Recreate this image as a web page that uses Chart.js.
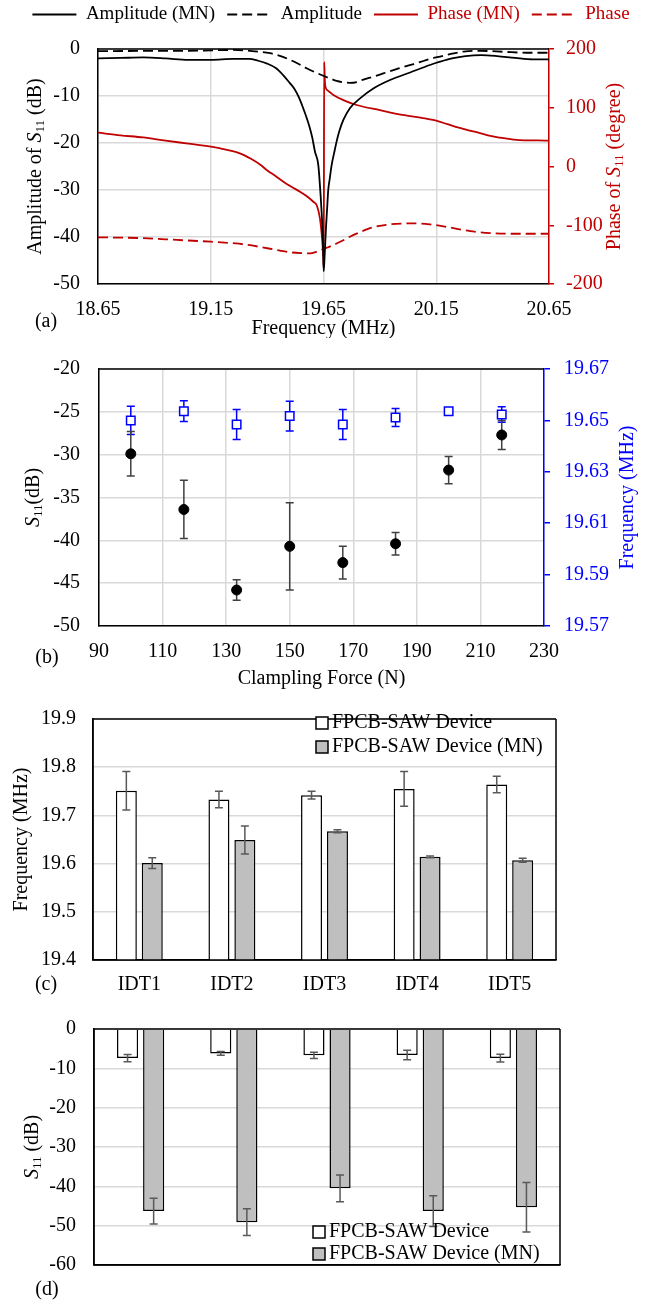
<!DOCTYPE html>
<html>
<head>
<meta charset="utf-8">
<script src="https://cdn.jsdelivr.net/npm/chart.js@4.4.1/dist/chart.umd.min.js"></script>
<style>
  html, body { margin: 0; padding: 0; background: #fff; }
  body { width: 662px; height: 1304px; position: relative; overflow: hidden; }
  .panel { position: absolute; left: 0; width: 662px; }
</style>
</head>
<body>
<div class="panel" style="top:-7px;height:345px"><canvas id="chartA"></canvas></div>
<div class="panel" style="top:338px;height:352px"><canvas id="chartB"></canvas></div>
<div class="panel" style="top:690px;height:325px"><canvas id="chartC"></canvas></div>
<div class="panel" style="top:999px;height:305px"><canvas id="chartD"></canvas></div>
<script>
// (a) S11 amplitude (dB) and phase (degree) vs frequency (MHz)
var freqAmpMN = [18.65, 18.75, 18.85, 18.95, 19.05, 19.15, 19.25, 19.32, 19.36, 19.40, 19.44, 19.47, 19.50, 19.52, 19.54, 19.56, 19.58, 19.59, 19.60, 19.612, 19.627, 19.637, 19.642, 19.646, 19.649, 19.651, 19.655, 19.658, 19.661, 19.666, 19.671, 19.678, 19.686, 19.70, 19.708, 19.72, 19.738, 19.767, 19.812, 19.871, 19.945, 20.034, 20.122, 20.167, 20.22, 20.28, 20.35, 20.42, 20.50, 20.58, 20.65];
var ampMN = [-2.0, -1.9, -1.8, -2.0, -2.3, -2.3, -2.1, -2.1, -2.5, -3.1, -4.1, -5.5, -7.2, -8.4, -10.2, -12.6, -15.3, -16.9, -18.8, -21.8, -24.7, -31, -35, -39, -44, -47.3, -44, -41, -38, -34, -30, -27.5, -24.7, -21.5, -19.7, -17.5, -15.1, -12.6, -10.5, -8.4, -6.6, -5.0, -3.4, -2.7, -2.0, -1.5, -1.3, -1.5, -1.9, -2.2, -2.2];
var freqAmp = [18.65, 18.9, 19.1, 19.25, 19.324, 19.413, 19.46, 19.501, 19.54, 19.575, 19.61, 19.649, 19.68, 19.708, 19.74, 19.767, 19.80, 19.827, 19.87, 19.915, 19.96, 20.004, 20.05, 20.093, 20.13, 20.167, 20.22, 20.28, 20.35, 20.45, 20.55, 20.65];
var amp = [-0.45, -0.4, -0.35, -0.2, -0.4, -0.9, -1.5, -2.3, -3.2, -4.1, -4.9, -5.7, -6.3, -6.8, -7.1, -7.2, -7.0, -6.5, -5.9, -5.2, -4.5, -3.8, -3.2, -2.55, -2.0, -1.6, -1.0, -0.5, -0.4, -0.6, -0.8, -0.8];
var freqPhaseMN = [18.65, 18.75, 18.85, 18.95, 19.05, 19.15, 19.2, 19.26, 19.3, 19.324, 19.37, 19.398, 19.44, 19.472, 19.51, 19.546, 19.57, 19.59, 19.605, 19.62, 19.634, 19.642, 19.646, 19.649, 19.651, 19.653, 19.656, 19.661, 19.667, 19.68, 19.694, 19.738, 19.797, 19.9, 20.0, 20.1, 20.15, 20.2, 20.25, 20.3, 20.344, 20.39, 20.433, 20.48, 20.52, 20.6, 20.65];
var phaseMN = [57.5, 53, 49.5, 44, 39, 33.7, 30, 25, 19, 14, 3, -6, -17, -26, -35, -43, -49, -55, -60, -66, -88, -115, -134, -155, -172, 178, 145, 133, 130, 126, 121.7, 113, 104.7, 96, 88, 82, 78, 72, 66, 61, 57, 52, 49, 46.5, 45, 44.5, 44];
var freqPhase = [18.65, 18.85, 19.0, 19.15, 19.26, 19.324, 19.37, 19.413, 19.46, 19.501, 19.55, 19.59, 19.62, 19.649, 19.68, 19.708, 19.74, 19.767, 19.81, 19.856, 19.9, 19.945, 20.0, 20.034, 20.08, 20.122, 20.2, 20.3, 20.4, 20.5, 20.65];
var phase = [-120.5, -122, -125, -128, -131, -134, -137, -140, -143.5, -146, -147.5, -148, -145, -140.5, -136, -131, -125, -119.5, -112, -105, -101, -98.5, -97, -96.7, -97, -98.5, -103, -110, -113.5, -114.5, -114.5];
var freqTicksA = [18.65, 19.15, 19.65, 20.15, 20.65];

// (b) S11 and resonant frequency vs clamping force
var forceB = [100, 116.7, 133.3, 150, 166.7, 183.3, 200, 216.7];
var s11B = [-29.9, -36.4, -45.8, -40.7, -42.6, -40.4, -31.8, -27.7];
var s11ErrB = [2.6, 3.4, 1.2, 5.1, 1.9, 1.3, 1.6, 1.7];
var freqB = [19.650, 19.6536, 19.6484, 19.6517, 19.6484, 19.6511, 19.6536, 19.6523];
var freqErrB = [0.0055, 0.004, 0.0058, 0.0058, 0.0058, 0.0035, 0.0008, 0.003];
var freqTicksB = [19.57, 19.59, 19.61, 19.63, 19.65, 19.67];

// (c) frequency and (d) S11 per IDT
var idtLabels = ['IDT1', 'IDT2', 'IDT3', 'IDT4', 'IDT5'];
var freqDev = [19.751, 19.733, 19.742, 19.755, 19.764];
var freqDevErr = [0.040, 0.017, 0.008, 0.036, 0.017];
var freqDevMN = [19.601, 19.649, 19.667, 19.614, 19.607];
var freqDevMNErr = [0.011, 0.029, 0.003, 0.002, 0.004];
var freqTicksC = [19.4, 19.5, 19.6, 19.7, 19.8, 19.9];
var s11Dev = [-7.4, -6.2, -6.7, -6.6, -7.4];
var s11DevErr = [0.9, 0.5, 0.8, 1.2, 1.0];
var s11DevMN = [-46.3, -49.1, -40.5, -46.3, -45.3];
var s11DevMNErr = [3.3, 3.4, 3.4, 3.9, 6.3];

var FONT = '"Liberation Serif", "Times New Roman", serif';
var RED = '#c00000';
var BLUE = '#0000ff';
var GRID = '#d9d9d9';
var GRAY_BAR = '#bfbfbf';

Chart.defaults.font.family = FONT;
Chart.defaults.font.size = 20;
Chart.defaults.color = '#000';
Chart.defaults.animation = false;
Chart.defaults.maintainAspectRatio = false;
Chart.defaults.events = [];

function pts(xs, ys) {
	return xs.map(function(x, i) { return { x: x, y: ys[i] }; });
}
function fixW(w) { return function(s) { s.width = w; }; }
function fixH(h) { return function(s) { s.height = h; }; }
function setTicks(list) {
	return function(s) { s.ticks = list.map(function(v) { return { value: v }; }); };
}

// text with italic / subscript pieces, centered on (x, y)
function drawRich(ctx, parts, x, y, rot, color, size) {
	ctx.save();
	ctx.translate(x, y);
	ctx.rotate(rot);
	ctx.fillStyle = color;
	ctx.textBaseline = 'middle';
	ctx.textAlign = 'left';
	var fonts = parts.map(function(p) {
		var s = p.sub ? Math.round(size * 0.65) : size;
		return (p.it ? 'italic ' : '') + s + 'px ' + FONT;
	});
	var widths = [], total = 0;
	parts.forEach(function(p, i) {
		ctx.font = fonts[i];
		var w = ctx.measureText(p.t).width;
		widths.push(w);
		total += w;
	});
	var cx = -total / 2;
	parts.forEach(function(p, i) {
		ctx.font = fonts[i];
		ctx.fillText(p.t, cx, p.sub ? size * 0.25 : 0);
		cx += widths[i];
	});
	ctx.restore();
}

var textPlugin = {
	id: 'texts',
	afterDraw: function(chart, args, opts) {
		var a = chart.chartArea;
		(opts.items || []).forEach(function(it) {
			var x = it.x, y = it.y;
			if (it.at === 'left') { x = a.left - it.off; y = (a.top + a.bottom) / 2; }
			if (it.at === 'right') { x = a.right + it.off; y = (a.top + a.bottom) / 2; }
			if (it.at === 'bottom') { x = (a.left + a.right) / 2; y = a.bottom + it.off; }
			drawRich(chart.ctx, it.parts, x, y, it.rot || 0, it.color || '#000', 20);
		});
	}
};

var framePlugin = {
	id: 'frame',
	afterDatasetsDraw: function(chart, args, opts) {
		var a = chart.chartArea, ctx = chart.ctx;
		ctx.save();
		ctx.lineWidth = 1.5;
		ctx.strokeStyle = '#000';
		ctx.beginPath();
		(opts.sides || []).forEach(function(s) {
			if (s === 'top') { ctx.moveTo(a.left, a.top); ctx.lineTo(a.right, a.top); }
			if (s === 'bottom') { ctx.moveTo(a.left, a.bottom); ctx.lineTo(a.right, a.bottom); }
			if (s === 'left') { ctx.moveTo(a.left, a.top); ctx.lineTo(a.left, a.bottom); }
			if (s === 'right') { ctx.moveTo(a.right, a.top); ctx.lineTo(a.right, a.bottom); }
		});
		ctx.stroke();
		ctx.restore();
	}
};

function drawErrors(chart) {
	var ctx = chart.ctx;
	chart.data.datasets.forEach(function(ds, i) {
		if (!ds.errors) return;
		var meta = chart.getDatasetMeta(i);
		var ys = chart.scales[meta.yAxisID];
		ctx.save();
		ctx.strokeStyle = ds.errorColor;
		ctx.lineWidth = 1.5;
		meta.data.forEach(function(el, j) {
			var v = ds.data[j];
			if (typeof v === 'object') v = v.y;
			var e = ds.errors[j];
			var x = el.x;
			var y0 = ys.getPixelForValue(v - e), y1 = ys.getPixelForValue(v + e);
			ctx.beginPath();
			ctx.moveTo(x, y0); ctx.lineTo(x, y1);
			ctx.moveTo(x - 4, y0); ctx.lineTo(x + 4, y0);
			ctx.moveTo(x - 4, y1); ctx.lineTo(x + 4, y1);
			ctx.stroke();
		});
		ctx.restore();
	});
}

var errorBarPlugin = {
	id: 'errorBars',
	beforeDatasetsDraw: function(chart, args, opts) { if (opts.behind) drawErrors(chart); },
	afterDatasetsDraw: function(chart, args, opts) { if (!opts.behind) drawErrors(chart); }
};

var boxLegendPlugin = {
	id: 'boxLegend',
	afterDraw: function(chart, args, opts) {
		var ctx = chart.ctx;
		chart.data.datasets.forEach(function(ds, i) {
			var y = opts.y + i * opts.gap;
			ctx.save();
			ctx.fillStyle = ds.backgroundColor;
			ctx.strokeStyle = '#000';
			ctx.lineWidth = 1.5;
			ctx.fillRect(opts.x, y - 6, 12, 12);
			ctx.strokeRect(opts.x, y - 6, 12, 12);
			ctx.fillStyle = '#000';
			ctx.font = '20px ' + FONT;
			ctx.textBaseline = 'middle';
			ctx.textAlign = 'left';
			ctx.fillText(ds.label, opts.x + 16, y);
			ctx.restore();
		});
	}
};

// extra room under the top legend
var legendGapPlugin = {
	id: 'legendGap',
	afterInit: function(chart, args, opts) {
		if (!chart.legend) return;
		var fit = chart.legend.fit;
		chart.legend.fit = function() {
			fit.call(this);
			this.height += opts.extra || 0;
		};
	}
};

var S11 = [{ t: 'S', it: true }, { t: '11', sub: true }];

// ---- (a)
new Chart(document.getElementById('chartA'), {
	type: 'line',
	data: {
		datasets: [
			{ label: 'Amplitude (MN)', data: pts(freqAmpMN, ampMN), borderColor: '#000', yAxisID: 'y' },
			{ label: 'Amplitude', data: pts(freqAmp, amp), borderColor: '#000', borderDash: [10, 5], yAxisID: 'y' },
			{ label: 'Phase (MN)', data: pts(freqPhaseMN, phaseMN), borderColor: RED, yAxisID: 'y1' },
			{ label: 'Phase', data: pts(freqPhase, phase), borderColor: RED, borderDash: [10, 5], yAxisID: 'y1' }
		]
	},
	options: {
		layout: { padding: 0 },
		elements: {
			point: { radius: 0 },
			line: { borderWidth: 1.8, fill: false, cubicInterpolationMode: 'monotone' }
		},
		scales: {
			x: {
				type: 'linear', min: 18.65, max: 20.65,
				afterBuildTicks: setTicks(freqTicksA),
				ticks: { padding: 14, maxRotation: 0, autoSkip: false, callback: function(v) { return v.toFixed(2); } },
				grid: { color: GRID, lineWidth: 1.5, drawTicks: false },
				border: { color: '#000', width: 1.5 },
				afterFit: fixH(54)
			},
			y: {
				min: -50, max: 0,
				ticks: { stepSize: 10, padding: 18 },
				grid: { color: GRID, lineWidth: 1.5, drawTicks: false },
				border: { color: '#000', width: 1.5 },
				afterFit: fixW(98)
			},
			y1: {
				position: 'right', min: -200, max: 200,
				ticks: { stepSize: 100, padding: 12, color: RED },
				grid: { drawOnChartArea: false, color: RED, lineWidth: 1.5, tickLength: 5 },
				border: { color: RED, width: 1.5 },
				afterFit: fixW(113)
			}
		},
		plugins: {
			legend: {
				position: 'top',
				labels: {
					usePointStyle: true, pointStyle: 'line', pointStyleWidth: 44, padding: 12,
					font: { size: 19 },
					generateLabels: function(chart) {
						return chart.data.datasets.map(function(ds, i) {
							return {
								text: ds.label, datasetIndex: i, hidden: false,
								fillStyle: ds.borderColor, strokeStyle: ds.borderColor,
								fontColor: ds.borderColor, lineWidth: 1.8,
								lineDash: ds.borderDash || [], pointStyle: 'line'
							};
						});
					}
				}
			},
			legendGap: { extra: 15 },
			tooltip: { enabled: false },
			frame: { sides: ['top'] },
			texts: {
				items: [
					{ at: 'left', off: 62, rot: -Math.PI / 2, parts: [{ t: 'Amplitude of ' }].concat(S11, [{ t: ' (dB)' }]) },
					{ at: 'right', off: 66, rot: -Math.PI / 2, color: RED, parts: [{ t: 'Phase of ' }].concat(S11, [{ t: ' (degree)' }]) },
					{ at: 'bottom', off: 45, parts: [{ t: 'Frequency (MHz)' }] },
					{ x: 46, y: 329, parts: [{ t: '(a)' }] }
				]
			}
		}
	},
	plugins: [legendGapPlugin, framePlugin, textPlugin]
});

// ---- (b)
new Chart(document.getElementById('chartB'), {
	type: 'scatter',
	data: {
		datasets: [
			{
				label: 'Frequency', data: pts(forceB, freqB), yAxisID: 'y1', order: 0,
				pointStyle: 'rect', pointRadius: 6, borderWidth: 1.5,
				borderColor: BLUE, backgroundColor: '#fff',
				errors: freqErrB, errorColor: BLUE
			},
			{
				label: 'S11', data: pts(forceB, s11B), yAxisID: 'y', order: 1,
				pointStyle: 'circle', pointRadius: 5, borderWidth: 1,
				borderColor: '#000', backgroundColor: '#000',
				errors: s11ErrB, errorColor: '#404040'
			}
		]
	},
	options: {
		layout: { padding: { top: 24 } },
		scales: {
			x: {
				type: 'linear', min: 90, max: 230,
				ticks: { stepSize: 20, padding: 14, maxRotation: 0 },
				grid: { color: GRID, lineWidth: 1.5, drawTicks: false },
				border: { color: '#000', width: 1.5 },
				afterFit: fixH(64)
			},
			y: {
				min: -50, max: -20,
				ticks: { stepSize: 5, padding: 19 },
				grid: { color: GRID, lineWidth: 1.5, drawTicks: false },
				border: { color: '#000', width: 1.5 },
				afterFit: fixW(99)
			},
			y1: {
				position: 'right', min: 19.57, max: 19.67,
				afterBuildTicks: setTicks(freqTicksB),
				ticks: { padding: 14, color: BLUE, callback: function(v) { return v.toFixed(2); } },
				grid: { drawOnChartArea: false, color: BLUE, lineWidth: 1.5, tickLength: 6 },
				border: { color: BLUE, width: 1.5 },
				afterFit: fixW(118)
			}
		},
		plugins: {
			legend: { display: false },
			tooltip: { enabled: false },
			errorBars: { behind: true },
			frame: { sides: ['top'] },
			texts: {
				items: [
					{ at: 'left', off: 65, rot: -Math.PI / 2, parts: S11.concat([{ t: '(dB)' }]) },
					{ at: 'right', off: 84, rot: -Math.PI / 2, color: BLUE, parts: [{ t: 'Frequency (MHz)' }] },
					{ at: 'bottom', off: 53, parts: [{ t: 'Clampling Force (N)' }] },
					{ x: 47, y: 320, parts: [{ t: '(b)' }] }
				]
			}
		}
	},
	plugins: [errorBarPlugin, framePlugin, textPlugin]
});

// ---- (c)
new Chart(document.getElementById('chartC'), {
	type: 'bar',
	data: {
		labels: idtLabels,
		datasets: [
			{ label: 'FPCB-SAW Device', data: freqDev, errors: freqDevErr, errorColor: '#595959', backgroundColor: '#fff', borderColor: '#000', borderWidth: 1.5 },
			{ label: 'FPCB-SAW Device (MN)', data: freqDevMN, errors: freqDevMNErr, errorColor: '#595959', backgroundColor: GRAY_BAR, borderColor: '#000', borderWidth: 1.5 }
		]
	},
	options: {
		layout: { padding: { top: 19, right: 106 } },
		datasets: { bar: { categoryPercentage: 0.56, barPercentage: 0.81 } },
		scales: {
			x: {
				ticks: { padding: 13 },
				grid: { display: false, drawTicks: false },
				border: { color: '#000', width: 1.5 },
				afterFit: fixH(55)
			},
			y: {
				min: 19.4, max: 19.9,
				afterBuildTicks: setTicks(freqTicksC),
				ticks: { padding: 17, callback: function(v) { return v.toFixed(1); } },
				grid: { color: GRID, lineWidth: 1.5, drawTicks: false },
				border: { color: '#000', width: 1.5 },
				afterFit: fixW(93)
			}
		},
		plugins: {
			legend: { display: false },
			tooltip: { enabled: false },
			errorBars: { behind: false },
			frame: { sides: ['top', 'right', 'bottom', 'left'] },
			boxLegend: { x: 316, y: 33, gap: 24 },
			texts: {
				items: [
					{ at: 'left', off: 71, rot: -Math.PI / 2, parts: [{ t: 'Frequency (MHz)' }] },
					{ x: 46, y: 295, parts: [{ t: '(c)' }] }
				]
			}
		}
	},
	plugins: [errorBarPlugin, framePlugin, boxLegendPlugin, textPlugin]
});

// ---- (d)
new Chart(document.getElementById('chartD'), {
	type: 'bar',
	data: {
		labels: idtLabels,
		datasets: [
			{ label: 'FPCB-SAW Device', data: s11Dev, errors: s11DevErr, errorColor: '#595959', backgroundColor: '#fff', borderColor: '#000', borderWidth: 1.5 },
			{ label: 'FPCB-SAW Device (MN)', data: s11DevMN, errors: s11DevMNErr, errorColor: '#595959', backgroundColor: GRAY_BAR, borderColor: '#000', borderWidth: 1.5 }
		]
	},
	options: {
		layout: { padding: { top: 12, right: 102 } },
		datasets: { bar: { categoryPercentage: 0.56, barPercentage: 0.81 } },
		scales: {
			x: {
				ticks: { display: false },
				grid: { display: false, drawTicks: false },
				border: { color: '#000', width: 1.5 },
				afterFit: fixH(39)
			},
			y: {
				min: -60, max: 0,
				ticks: { stepSize: 10, padding: 18 },
				grid: { color: GRID, lineWidth: 1.5, drawTicks: false },
				border: { color: '#000', width: 1.5 },
				afterFit: fixW(94)
			}
		},
		plugins: {
			legend: { display: false },
			tooltip: { enabled: false },
			errorBars: { behind: false },
			frame: { sides: ['top', 'right', 'bottom', 'left'] },
			boxLegend: { x: 313, y: 233, gap: 22 },
			texts: {
				items: [
					{ at: 'left', off: 61, rot: -Math.PI / 2, parts: S11.concat([{ t: ' (dB)' }]) },
					{ x: 47, y: 291, parts: [{ t: '(d)' }] }
				]
			}
		}
	},
	plugins: [errorBarPlugin, framePlugin, boxLegendPlugin, textPlugin]
});
</script>
</body>
</html>
